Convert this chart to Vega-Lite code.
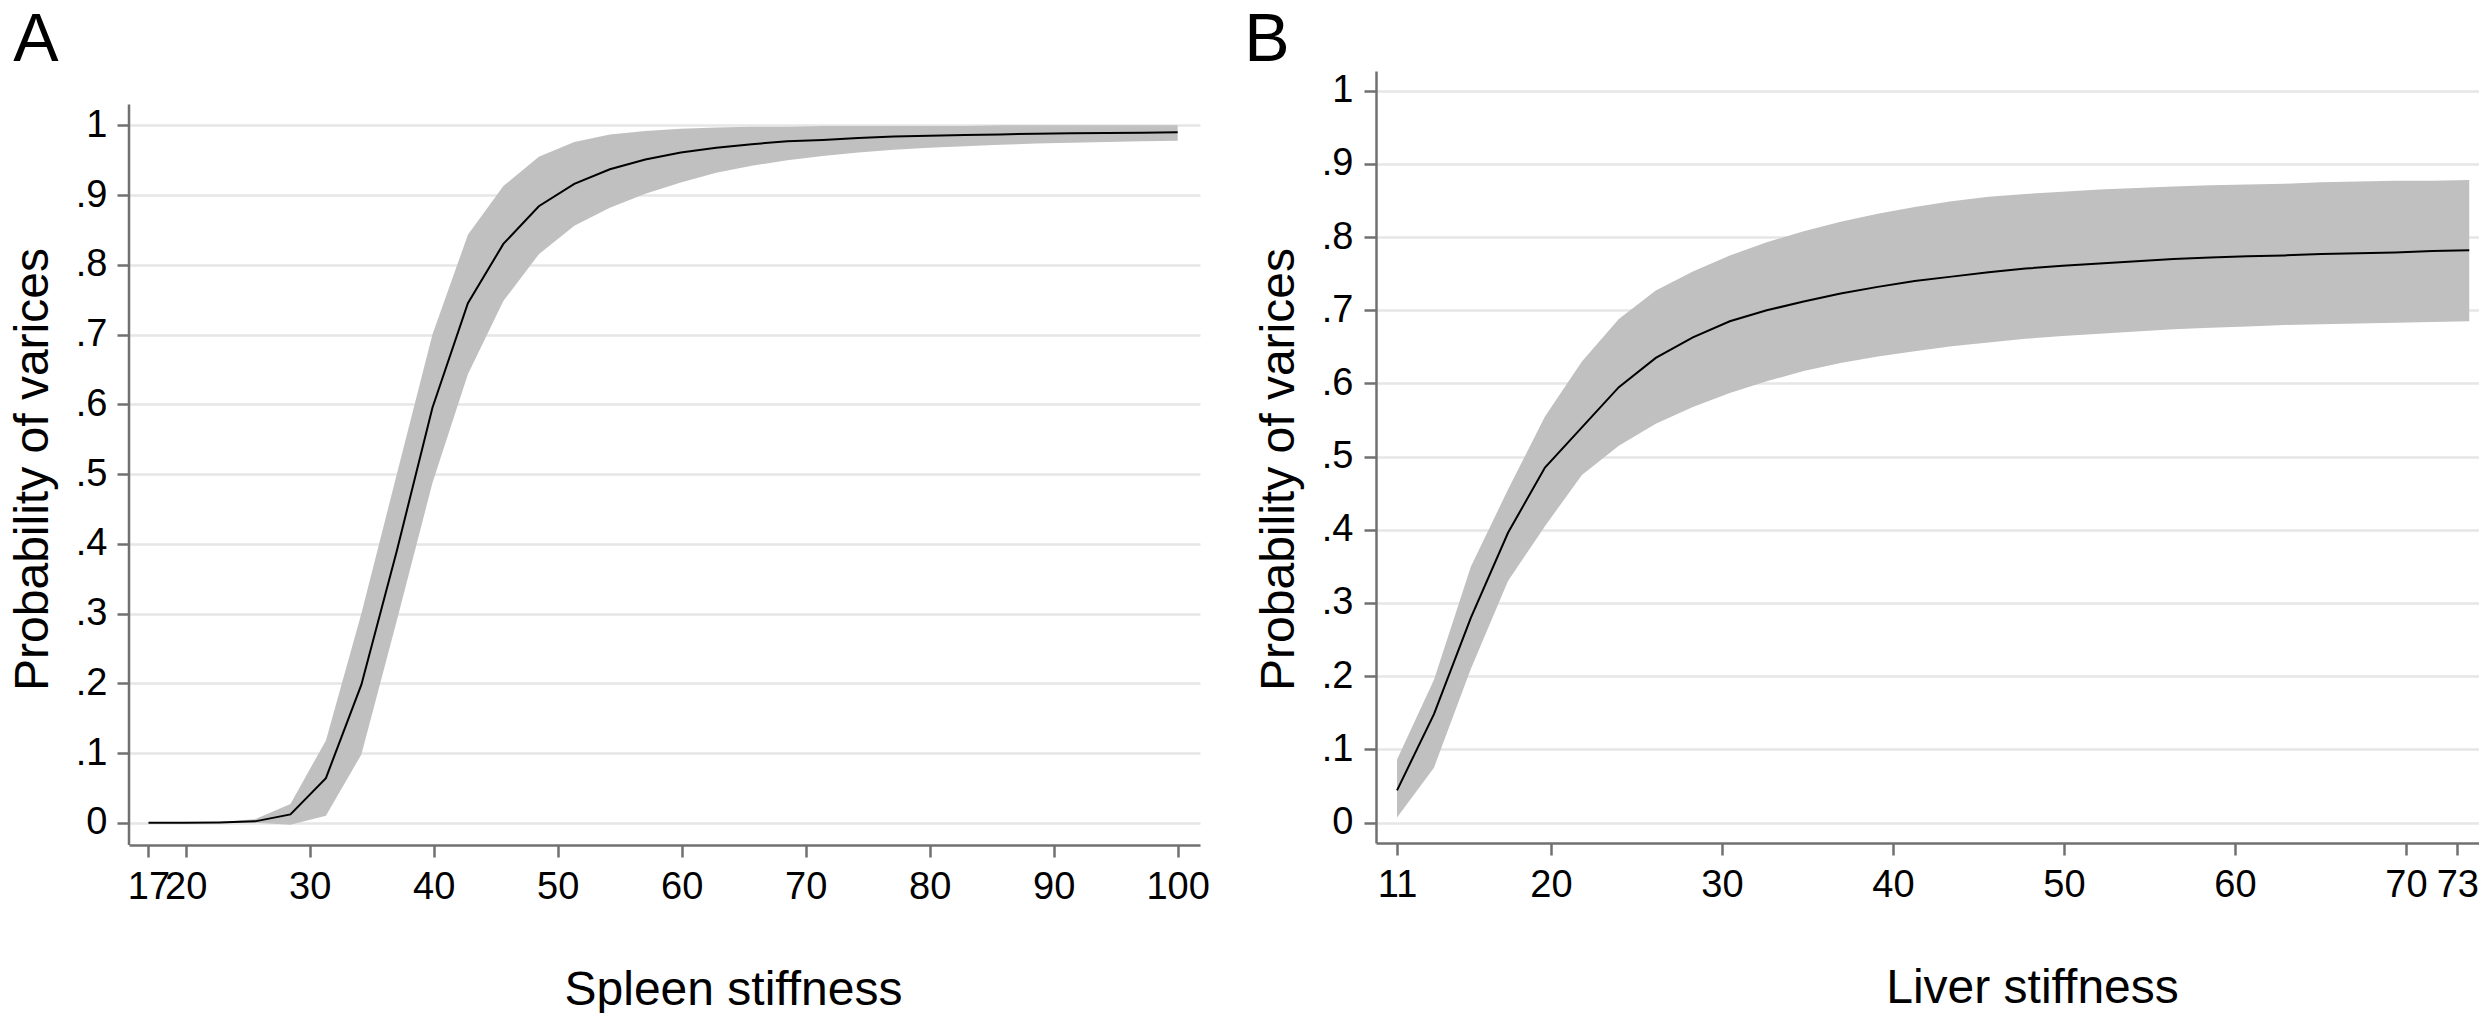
{
  "$schema": "https://vega.github.io/schema/vega-lite/v6.json",
  "background": "white",
  "padding": {"left": 9, "top": 7, "right": 0, "bottom": 0},
  "config": {
    "font": "Liberation Sans",
    "view": {"stroke": null},
    "axis": {
      "domainColor": "#707070", "domainWidth": 2.5,
      "tickColor": "#707070", "tickWidth": 2.5, "tickSize": 12,
      "labelFontSize": 38, "labelColor": "black", "labelFont": "Liberation Sans",
      "titleFontSize": 48, "titleFontWeight": "normal", "titleColor": "black", "titleFont": "Liberation Sans",
      "gridColor": "#e6e6e6", "gridWidth": 2.5,
      "labelOverlap": false, "labelFlush": false, "labelBound": false
    },
    "title": {"fontSize": 68, "fontWeight": "normal", "anchor": "start", "frame": "bounds", "color": "black", "font": "Liberation Sans"},
    "concat": {"spacing": 34}
  },
  "hconcat": [
    {
      "width": 1071, "height": 774,
      "title": {"text": "A", "offset": -4, "dx": 4},
      "data": {"values": [
        {"s": 17.00, "p": 0, "lo": 0, "up": 0},
        {"s": 19.86, "p": 0, "lo": 0, "up": 0},
        {"s": 22.72, "p": 0.0005, "lo": 0, "up": 0.001},
        {"s": 25.59, "p": 0.002, "lo": 0, "up": 0.005},
        {"s": 28.45, "p": 0.012, "lo": -0.003, "up": 0.027},
        {"s": 31.31, "p": 0.064, "lo": 0.010, "up": 0.118},
        {"s": 34.17, "p": 0.198, "lo": 0.098, "up": 0.300},
        {"s": 37.03, "p": 0.390, "lo": 0.290, "up": 0.500},
        {"s": 39.90, "p": 0.595, "lo": 0.487, "up": 0.700},
        {"s": 42.76, "p": 0.745, "lo": 0.643, "up": 0.843},
        {"s": 45.62, "p": 0.830, "lo": 0.748, "up": 0.913},
        {"s": 48.48, "p": 0.884, "lo": 0.815, "up": 0.955},
        {"s": 51.34, "p": 0.916, "lo": 0.856, "up": 0.976},
        {"s": 54.21, "p": 0.937, "lo": 0.882, "up": 0.987},
        {"s": 57.07, "p": 0.951, "lo": 0.902, "up": 0.992},
        {"s": 59.93, "p": 0.961, "lo": 0.918, "up": 0.995},
        {"s": 62.79, "p": 0.968, "lo": 0.932, "up": 0.997},
        {"s": 65.65, "p": 0.973, "lo": 0.942, "up": 0.998},
        {"s": 68.52, "p": 0.977, "lo": 0.950, "up": 0.998},
        {"s": 71.38, "p": 0.979, "lo": 0.956, "up": 0.999},
        {"s": 74.24, "p": 0.982, "lo": 0.961, "up": 0.999},
        {"s": 77.10, "p": 0.984, "lo": 0.965, "up": 0.999},
        {"s": 79.97, "p": 0.985, "lo": 0.968, "up": 0.999},
        {"s": 82.83, "p": 0.986, "lo": 0.970, "up": 0.999},
        {"s": 85.69, "p": 0.987, "lo": 0.972, "up": 1.0},
        {"s": 88.55, "p": 0.988, "lo": 0.974, "up": 1.0},
        {"s": 91.41, "p": 0.9885, "lo": 0.975, "up": 1.0},
        {"s": 94.28, "p": 0.989, "lo": 0.976, "up": 1.0},
        {"s": 97.14, "p": 0.9895, "lo": 0.977, "up": 1.0},
        {"s": 100.0, "p": 0.990, "lo": 0.978, "up": 1.0}
      ]},
      "encoding": {
        "x": {"field": "s", "type": "quantitative",
          "scale": {"domain": [15.43, 101.8], "nice": false, "zero": false},
          "axis": {"title": "Spleen stiffness", "values": [17, 20, 30, 40, 50, 60, 70, 80, 90, 100], "grid": false, "labelPadding": 11, "titlePadding": 60, "titleX": 604}}
      },
      "layer": [
        {
          "mark": {"type": "area", "color": "#c0c0c0", "opacity": 1},
          "encoding": {
            "y": {"field": "lo", "type": "quantitative",
              "scale": {"domain": [-0.0319, 1.0779], "nice": false, "zero": false},
              "axis": {"title": "Probability of varices", "values": [0, 0.1, 0.2, 0.3, 0.4, 0.5, 0.6, 0.7, 0.8, 0.9, 1],
                "labelExpr": "datum.value > 0 && datum.value < 1 ? '.' + format(datum.value * 10, '.0f') : format(datum.value, 'd')",
                "domain": false, "grid": true, "labelPadding": 10, "titlePadding": 18, "titleY": 398}},
            "y2": {"field": "up"}
          }
        },
        {
          "mark": {"type": "line", "color": "black", "strokeWidth": 2},
          "encoding": {
            "y": {"field": "p", "type": "quantitative", "axis": {"title": "Probability of varices"}}
          }
        },
        {
          "data": {"values": [{"edge": 15.43, "bottom": -0.0319, "top": 1.03}]},
          "mark": {"type": "rule", "color": "#707070", "strokeWidth": 2.5},
          "encoding": {
            "x": {"field": "edge", "type": "quantitative"},
            "y": {"field": "bottom", "type": "quantitative", "axis": {"title": "Probability of varices"}},
            "y2": {"field": "top"}
          }
        }
      ]
    },
    {
      "width": 1110, "height": 772,
      "title": {"text": "B", "offset": -4, "dx": -11},
      "data": {"values": [
        {"l": 11.00, "p": 0.044, "lo": 0.007, "up": 0.086},
        {"l": 13.16, "p": 0.148, "lo": 0.075, "up": 0.195},
        {"l": 15.32, "p": 0.280, "lo": 0.210, "up": 0.350},
        {"l": 17.49, "p": 0.396, "lo": 0.330, "up": 0.455},
        {"l": 19.65, "p": 0.485, "lo": 0.405, "up": 0.555},
        {"l": 21.81, "p": 0.540, "lo": 0.475, "up": 0.630},
        {"l": 23.97, "p": 0.595, "lo": 0.515, "up": 0.688},
        {"l": 26.13, "p": 0.635, "lo": 0.545, "up": 0.727},
        {"l": 28.30, "p": 0.663, "lo": 0.568, "up": 0.753},
        {"l": 30.46, "p": 0.685, "lo": 0.587, "up": 0.775},
        {"l": 32.62, "p": 0.700, "lo": 0.603, "up": 0.793},
        {"l": 34.78, "p": 0.712, "lo": 0.617, "up": 0.808},
        {"l": 36.94, "p": 0.723, "lo": 0.628, "up": 0.821},
        {"l": 39.11, "p": 0.732, "lo": 0.637, "up": 0.832},
        {"l": 41.27, "p": 0.740, "lo": 0.644, "up": 0.841},
        {"l": 43.43, "p": 0.746, "lo": 0.651, "up": 0.849},
        {"l": 45.59, "p": 0.752, "lo": 0.656, "up": 0.855},
        {"l": 47.75, "p": 0.757, "lo": 0.661, "up": 0.859},
        {"l": 49.92, "p": 0.761, "lo": 0.665, "up": 0.862},
        {"l": 52.08, "p": 0.764, "lo": 0.668, "up": 0.865},
        {"l": 54.24, "p": 0.767, "lo": 0.671, "up": 0.867},
        {"l": 56.40, "p": 0.770, "lo": 0.674, "up": 0.869},
        {"l": 58.56, "p": 0.772, "lo": 0.676, "up": 0.871},
        {"l": 60.73, "p": 0.774, "lo": 0.678, "up": 0.872},
        {"l": 62.89, "p": 0.775, "lo": 0.680, "up": 0.873},
        {"l": 65.05, "p": 0.777, "lo": 0.681, "up": 0.875},
        {"l": 67.21, "p": 0.778, "lo": 0.682, "up": 0.876},
        {"l": 69.37, "p": 0.779, "lo": 0.683, "up": 0.877},
        {"l": 71.54, "p": 0.781, "lo": 0.684, "up": 0.877},
        {"l": 73.70, "p": 0.782, "lo": 0.685, "up": 0.878}
      ]},
      "encoding": {
        "x": {"field": "l", "type": "quantitative",
          "scale": {"domain": [9.77, 74.68], "nice": false, "zero": false},
          "axis": {"title": "Liver stiffness", "values": [11, 20, 30, 40, 50, 60, 70, 73], "grid": false, "labelPadding": 11, "titlePadding": 60, "titleX": 656}}
      },
      "layer": [
        {
          "mark": {"type": "area", "color": "#c0c0c0", "opacity": 1},
          "encoding": {
            "y": {"field": "lo", "type": "quantitative",
              "scale": {"domain": [-0.028, 1.027], "nice": false, "zero": false},
              "axis": {"title": "Probability of varices", "values": [0, 0.1, 0.2, 0.3, 0.4, 0.5, 0.6, 0.7, 0.8, 0.9, 1],
                "labelExpr": "datum.value > 0 && datum.value < 1 ? '.' + format(datum.value * 10, '.0f') : format(datum.value, 'd')",
                "grid": true, "labelPadding": 11, "titlePadding": 18, "titleY": 398}},
            "y2": {"field": "up"}
          }
        },
        {
          "mark": {"type": "line", "color": "black", "strokeWidth": 2},
          "encoding": {
            "y": {"field": "p", "type": "quantitative", "axis": {"title": "Probability of varices"}}
          }
        }
      ]
    }
  ]
}
